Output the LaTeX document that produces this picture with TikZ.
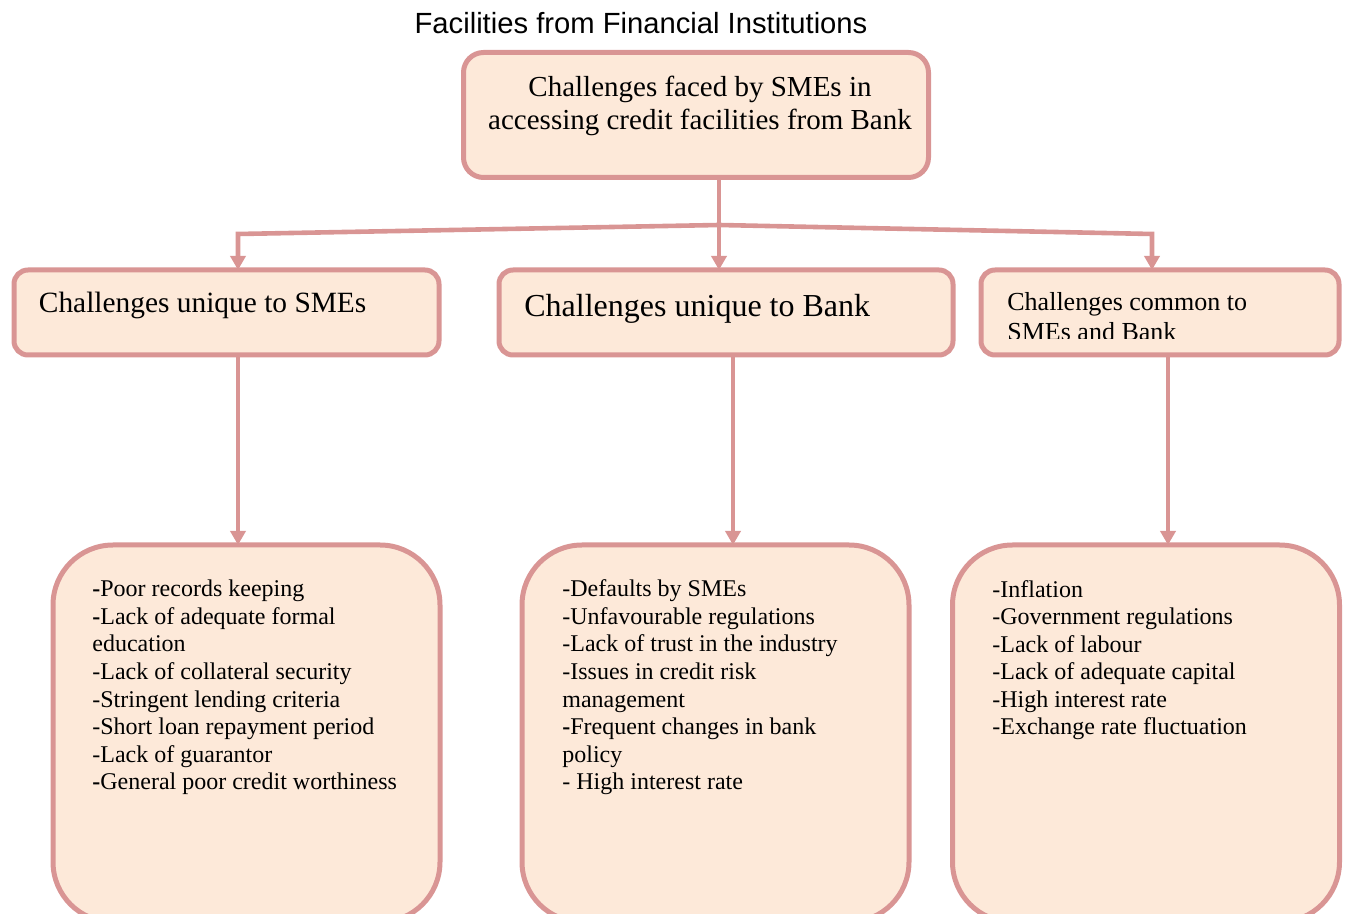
\documentclass[tikz,border=0pt]{standalone}
\usepackage{fontspec}
\setmainfont{Liberation Serif}
\newfontfamily\headfont{Liberation Sans}
\usetikzlibrary{arrows.meta}
\definecolor{BoxLine}{HTML}{D99594}
\definecolor{BoxFill}{HTML}{FDE9D9}

\begin{document}
\begin{tikzpicture}[x=0.5pt, y=-0.5pt,
    box/.style={draw=BoxLine, fill=BoxFill, line width=2.5pt, rounded corners=7pt,
                anchor=north west, inner sep=0pt, outer sep=0pt},
    link/.style={draw=BoxLine, line width=2.3pt, -{Triangle[length=7pt,width=7.5pt]}},
    txt/.style={anchor=base west, inner sep=0pt, align=left},
    list/.style={txt, font=\fontsize{12}{13.8}\selectfont}]
    \useasboundingbox (0,0) rectangle (1346,914);
    \clip (0,0) rectangle (1346,914);

    \node[anchor=base, inner sep=0pt, font=\headfont\fontsize{14.6}{17}\selectfont]
        (title) at (641,34) {Facilities from Financial Institutions};

    % top box (multi-line nodes sit on their last baseline)
    \node[box, rounded corners=10pt, minimum width=232.5pt, minimum height=62.5pt]
        (main) at (463.5,52.5) {};
    \node[anchor=base, inner sep=0pt, align=center, font=\fontsize{14.5}{16.6}\selectfont]
        (maintext) at (700,129.5) {Challenges faced by SMEs in\\accessing credit facilities from Bank};

    % middle row
    \node[box, minimum width=212.5pt, minimum height=42.5pt] (smes) at (14,270) {};
    \node[box, minimum width=227pt, minimum height=42.5pt] (bank) at (499,270) {};
    \node[box, minimum width=179pt, minimum height=42.5pt] (both) at (981,270) {};
    \node[txt, font=\fontsize{14.7}{17}\selectfont] (smestext) at (38.5,313) {Challenges unique to SMEs};
    \node[txt, font=\fontsize{16}{18.4}\selectfont] (banktext) at (524,316.5) {Challenges unique to Bank};
    \begin{scope}
        \clip (981,270) rectangle (1339,338.5);
        \node[txt, font=\fontsize{13}{15}\selectfont] (bothtext) at (1007,341)
            {Challenges common to\\SMEs and Bank};
    \end{scope}

    % bottom row
    \foreach \n/\x in {smeslist/53, banklist/522, bothlist/952.5}
        \node[box, rounded corners=30pt, minimum width=193.5pt, minimum height=188.5pt] (\n) at (\x,545) {};
    \node[list] (smesitems) at (92,790) {\textbf{-}Poor records keeping\\\textbf{-}Lack of adequate formal\\education\\-Lack of collateral security\\-Stringent lending criteria\\-Short loan repayment period\\-Lack of guarantor\\\textbf{-}General poor credit worthiness};
    \node[list] (bankitems) at (562,790) {-Defaults by SMEs\\-Unfavourable regulations\\-Lack of trust in the industry\\-Issues in credit risk\\management\\\textbf{-}Frequent changes in bank\\policy\\- High interest rate};
    \node[list] (bothitems) at (992,735) {-Inflation\\-Government regulations\\-Lack of labour\\-Lack of adequate capital\\-High interest rate\\-Exchange rate fluctuation};

    % connectors
    \coordinate (fork) at (719,225);
    \coordinate (lbend) at (238,234);
    \coordinate (rbend) at (1152,234);
    \draw[link] (fork |- main.south) -- (fork |- bank.north);
    \draw[link] (fork) -- (lbend) -- (lbend |- smes.north);
    \draw[link] (fork) -- (rbend) -- (rbend |- both.north);
    \foreach \a/\b/\x in {smes/smeslist/238, bank/banklist/733, both/bothlist/1168}
        \draw[link] (\x,0 |- \a.south) -- (\x,0 |- \b.north);
\end{tikzpicture}
\end{document}
